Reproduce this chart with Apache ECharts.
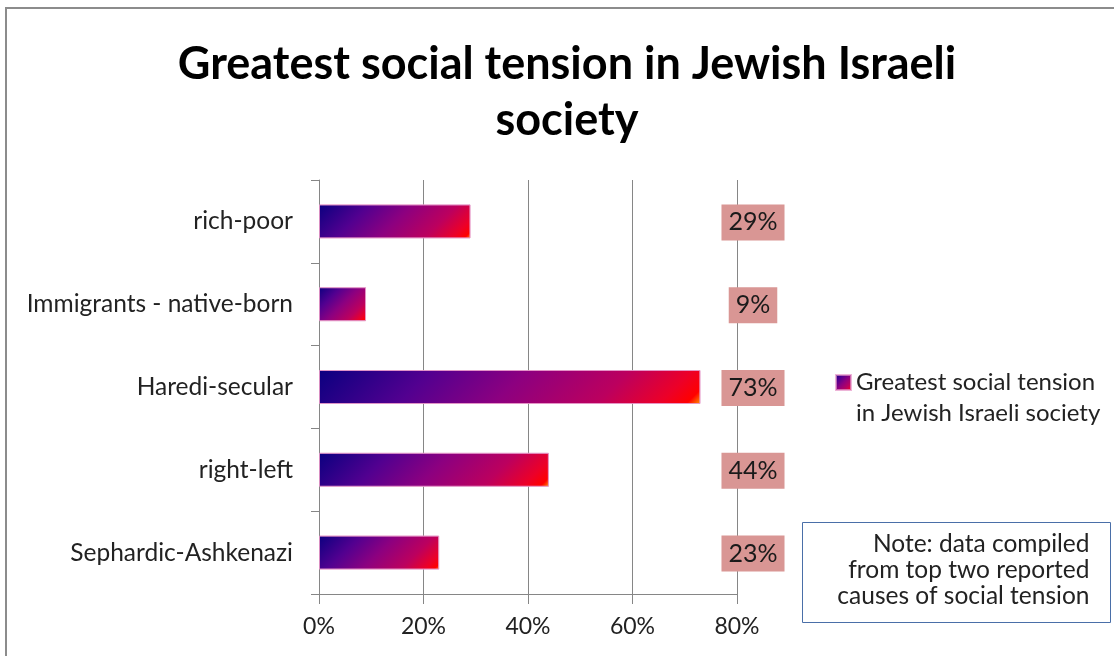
<!DOCTYPE html>
<html>
<head>
<meta charset="utf-8">
<script src="https://cdn.jsdelivr.net/npm/echarts@6/dist/echarts.min.js"></script>
<style>
  html, body { margin: 0; padding: 0; background: #fff; }
  #chart { width: 1114px; height: 656px; }
</style>
</head>
<body>
<div id="chart"></div>
<script>
// Share of respondents naming each divide among the top two sources of tension
const categories = ['rich-poor', 'Immigrants - native-born', 'Haredi-secular', 'right-left', 'Sephardic-Ashkenazi'];
const values = [29, 9, 73, 44, 23];
const xTicks = [0, 20, 40, 60, 80];
const seriesName = 'Greatest social tension in Jewish Israeli society';
const chartTitle = 'Greatest social tension in Jewish Israeli\nsociety';
const legendLines = ['Greatest social tension', 'in Jewish Israeli society'];
const noteLines = ['Note: data compiled', 'from top two reported', 'causes of social tension'];

const FONT = 'Lato, "Open Sans", sans-serif';
const AXIS_GRAY = '#868686';
const BAR_HEIGHT = 34;

// navy -> purple -> magenta -> red, with an orange glint in the far corner
const gradientStops = [
  { offset: 0, color: '#0a0080' },
  { offset: 0.27, color: '#520090' },
  { offset: 0.5, color: '#8c0080' },
  { offset: 0.75, color: '#bc005e' },
  { offset: 0.9, color: '#ec0028' },
  { offset: 0.965, color: '#ff0000' },
  { offset: 1, color: '#ff9a00' }
];

// Diagonal gradient whose bands run at 45 degrees on screen, whatever the bar's length
function diagonalGradient(w, h) {
  const s = (w + h) / 2;
  return new echarts.graphic.LinearGradient(0, 0, s / w, s / h, gradientStops);
}

const chart = echarts.init(document.getElementById('chart'), null, { renderer: 'canvas' });

chart.setOption({
  backgroundColor: '#ffffff',
  animation: false,
  title: {
    text: chartTitle,
    left: 562,
    top: 31,
    textAlign: 'center',
    textStyle: {
      fontFamily: FONT,
      fontWeight: 'bold',
      fontSize: 45,
      lineHeight: 56,
      color: '#000'
    }
  },
  legend: {
    data: [seriesName],
    left: 830,
    top: 331,
    orient: 'vertical',
    icon: 'rect',
    itemWidth: 15,
    itemHeight: 15,
    formatter: () => '\n' + legendLines.join('\n'),
    textStyle: {
      fontFamily: FONT,
      fontSize: 24,
      lineHeight: 31,
      color: '#222'
    }
  },
  grid: {
    left: 319,
    right: 377,
    top: 180,
    bottom: 62,
    containLabel: false
  },
  xAxis: {
    type: 'value',
    min: xTicks[0],
    max: xTicks[xTicks.length - 1],
    interval: xTicks[1] - xTicks[0],
    axisLine: { show: true, lineStyle: { color: AXIS_GRAY, width: 1 } },
    axisTick: { show: true, length: 10, lineStyle: { color: AXIS_GRAY } },
    splitLine: { show: true, lineStyle: { color: AXIS_GRAY, width: 1 } },
    axisLabel: {
      margin: 21,
      formatter: '{value}%',
      fontFamily: FONT,
      fontSize: 23,
      color: '#222'
    }
  },
  yAxis: {
    type: 'category',
    data: categories,
    inverse: true,
    axisLine: { show: true, lineStyle: { color: AXIS_GRAY, width: 1 } },
    axisTick: { show: true, length: 8, alignWithLabel: false, lineStyle: { color: AXIS_GRAY } },
    splitLine: { show: false },
    axisLabel: {
      margin: 26,
      fontFamily: FONT,
      fontSize: 24.5,
      color: '#222'
    }
  },
  series: [
    {
      name: seriesName,
      type: 'bar',
      data: values,
      barWidth: BAR_HEIGHT,
      itemStyle: {
        color: diagonalGradient(1, 1),
        borderColor: 'rgba(230,150,200,0.7)',
        borderWidth: 1
      }
    },
    {
      // value tags parked just right of the 80% gridline
      name: 'tags',
      type: 'custom',
      clip: false,
      silent: true,
      data: values.map((v, i) => [v, i]),
      renderItem: (params, api) => {
        const p = api.coord([xTicks[xTicks.length - 1], api.value(1)]);
        return {
          type: 'text',
          x: p[0] + 16,
          y: p[1] + 1,
          style: {
            text: api.value(0) + '%',
            align: 'center',
            verticalAlign: 'middle',
            fontFamily: FONT,
            fontSize: 25,
            fill: '#1a1a1a',
            backgroundColor: '#d99694',
            padding: [6, 7, 5, 7]
          }
        };
      }
    }
  ],
  graphic: [
    {
      // outer frame
      type: 'rect',
      silent: true,
      shape: { x: 6, y: 8, width: 1200, height: 800 },
      style: { fill: 'none', stroke: '#8c8c8c', lineWidth: 2 }
    },
    {
      type: 'group',
      left: 802,
      top: 522,
      children: [
        {
          type: 'rect',
          shape: { x: 0, y: 0, width: 308, height: 100 },
          style: { fill: '#fff', stroke: '#4a6fa8', lineWidth: 1 }
        },
        {
          type: 'text',
          x: 287,
          y: 9,
          style: {
            text: noteLines.join('\n'),
            align: 'right',
            fontFamily: FONT,
            fontSize: 24.5,
            lineHeight: 26,
            fill: '#222'
          }
        }
      ]
    }
  ]
});

// Give every bar its own gradient sized to its on-screen length
const x0 = chart.convertToPixel({ xAxisIndex: 0 }, 0);
chart.setOption({
  series: [{
    name: seriesName,
    data: values.map(v => {
      const w = Math.max(1, chart.convertToPixel({ xAxisIndex: 0 }, v) - x0);
      return { value: v, itemStyle: { color: diagonalGradient(w, BAR_HEIGHT) } };
    })
  }]
});
</script>
</body>
</html>
